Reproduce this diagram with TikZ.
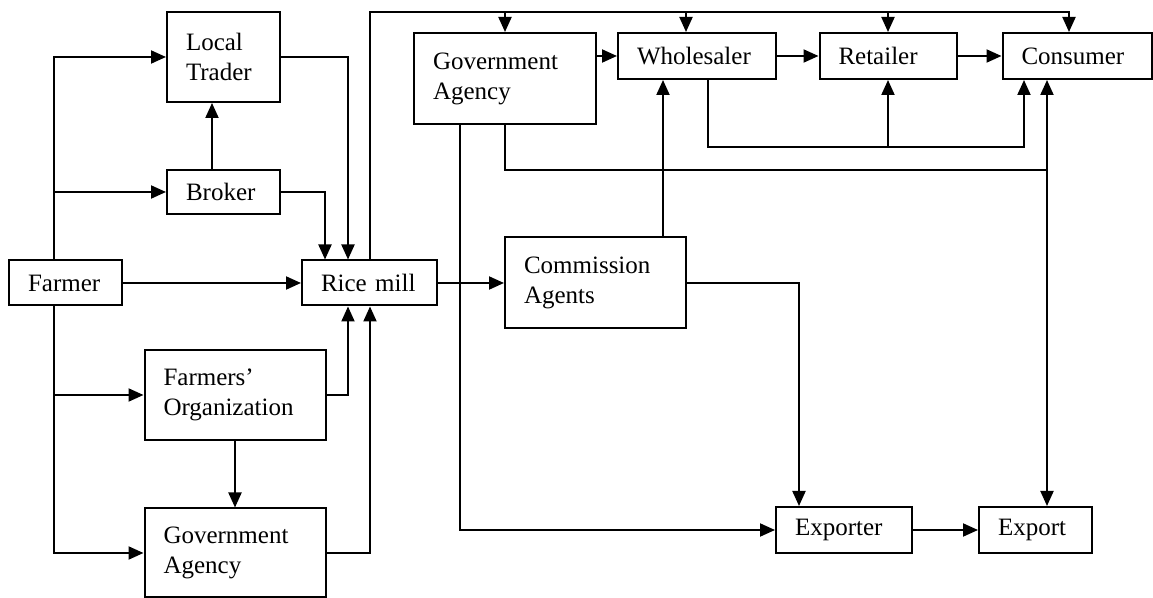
\documentclass[tikz,border=0pt]{standalone}
\usepackage{fontspec}
\setmainfont{Liberation Serif}
\usetikzlibrary{arrows.meta}
\begin{document}
\begin{tikzpicture}
[x=0.5pt,y=-0.5pt,font=\fontsize{12.5}{15}\selectfont,
  boxdecorate/.style={shape=rectangle,draw,line width=1pt,align=left,inner xsep=9.5pt,inner ysep=0pt},%
  arrowdecorate/.style={-{Triangle[length=7.5pt,width=6.5pt]},line width=1pt},%
  linedecorate/.style={line width=1pt}]
\useasboundingbox (0,0) rectangle (1153,598);
% nodes or boxes
\node (trader) at (223.5,57) [boxdecorate,text width=37.5pt,minimum height=45pt] {Local\\Trader};
\node (broker) at (223.5,192) [boxdecorate,text width=37.5pt,minimum height=22pt] {Broker};
\node (farmer) at (65.5,283) [boxdecorate,text width=37.5pt,minimum height=22.5pt] {Farmer};
\node (mill) at (369.5,283) [boxdecorate,text width=48.5pt,minimum height=22.5pt] {Rice mill};
\node (farmorg) at (235,395) [boxdecorate,text width=71.5pt,minimum height=45pt] {Farmers’\\Organization};
\node (govlow) at (235,553) [boxdecorate,text width=71.5pt,minimum height=44.5pt] {Government\\Agency};
\node (govup) at (505,78.5) [boxdecorate,text width=72pt,minimum height=45.5pt] {Government\\Agency};
\node (wholesaler) at (697,56) [boxdecorate,text width=60pt,minimum height=23pt] {Wholesaler};
\node (retailer) at (888,56) [boxdecorate,text width=49.5pt,minimum height=23pt] {Retailer};
\node (consumer) at (1077,56) [boxdecorate,text width=55.5pt,minimum height=23pt] {Consumer};
\node (agents) at (595.5,283) [boxdecorate,text width=71.5pt,minimum height=45.5pt] {Commission\\Agents};
\node (exporter) at (844,530) [boxdecorate,text width=49pt,minimum height=23pt] {Exporter};
\node (export) at (1035.5,530) [boxdecorate,text width=37.5pt,minimum height=23pt] {Export};
\coordinate (topline) at (0,12);
% edges or lines
\path
(farmer) edge[arrowdecorate] node {} (mill)
(mill) edge[arrowdecorate] node {} (agents)
(farmorg) edge[arrowdecorate] node {} (govlow)
(govup.east |- wholesaler.west) edge[arrowdecorate] node {} (wholesaler)
(wholesaler) edge[arrowdecorate] node {} (retailer)
(retailer) edge[arrowdecorate] node {} (consumer)
(exporter) edge[arrowdecorate] node {} (export);
% farmer to the buyers
\draw[arrowdecorate] (54,0 |- farmer.north) |- (trader.west);
\draw[arrowdecorate] (54,0 |- farmer.north) |- (broker.west);
\draw[arrowdecorate] (54,0 |- farmer.south) |- (farmorg.west);
\draw[arrowdecorate] (54,0 |- farmer.south) |- (govlow.west);
\draw[arrowdecorate] (212,0 |- broker.north) -- (212,0 |- trader.south);
% into the rice mill
\draw[arrowdecorate] (trader.east) -| (348,0 |- mill.north);
\draw[arrowdecorate] (broker.east) -| (325,0 |- mill.north);
\draw[arrowdecorate] (farmorg.east) -| (348,0 |- mill.south);
\draw[arrowdecorate] (govlow.east) -| (370,0 |- mill.south);
% out of the rice mill, along the top
\draw[arrowdecorate] (mill.north) |- (1069,0 |- topline) -- (1069,0 |- consumer.north);
\draw[arrowdecorate] (govup.north |- topline) -- (govup.north);
\draw[arrowdecorate] (686,0 |- topline) -- (686,0 |- wholesaler.north);
\draw[arrowdecorate] (retailer.north |- topline) -- (retailer.north);
% wholesaler to retailer and consumer
\draw[arrowdecorate] (708,0 |- wholesaler.south) |- (1024,147) -- (1024,0 |- consumer.south);
\draw[arrowdecorate] (retailer.south |- 0,147) -- (retailer.south);
% government agency and the export line
\draw[linedecorate] (govup.south) |- (1047,170);
\draw[arrowdecorate,{Triangle[length=7.5pt,width=6.5pt]}-{Triangle[length=7.5pt,width=6.5pt]}] (1047,0 |- consumer.south) -- (1047,0 |- export.north);
\draw[arrowdecorate] (460,0 |- govup.south) |- (exporter.west);
% commission agents
\draw[arrowdecorate] (663,0 |- agents.north) -- (663,0 |- wholesaler.south);
\draw[arrowdecorate] (agents.east) -| (799,0 |- exporter.north);
\end{tikzpicture}
\end{document}
